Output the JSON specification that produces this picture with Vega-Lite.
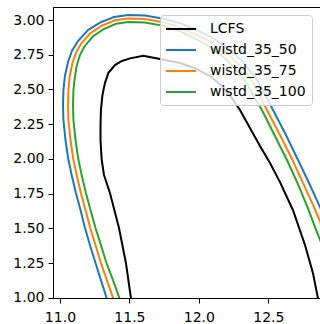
{
  "$schema": "https://vega.github.io/schema/vega-lite/v6.json",
  "autosize": "none",
  "width": 267,
  "height": 291,
  "padding": {"left": 53, "top": 7, "right": 0, "bottom": 26},
  "background": "white",
  "data": {"values": [
    {"s":"LCFS","i":0,"x":11.522,"y":0.947},
    {"s":"LCFS","i":1,"x":11.511,"y":0.998},
    {"s":"LCFS","i":2,"x":11.475,"y":1.250},
    {"s":"LCFS","i":3,"x":11.425,"y":1.502},
    {"s":"LCFS","i":4,"x":11.360,"y":1.754},
    {"s":"LCFS","i":5,"x":11.317,"y":1.884},
    {"s":"LCFS","i":6,"x":11.300,"y":1.999},
    {"s":"LCFS","i":7,"x":11.292,"y":2.136},
    {"s":"LCFS","i":8,"x":11.292,"y":2.244},
    {"s":"LCFS","i":9,"x":11.295,"y":2.352},
    {"s":"LCFS","i":10,"x":11.306,"y":2.460},
    {"s":"LCFS","i":11,"x":11.324,"y":2.546},
    {"s":"LCFS","i":12,"x":11.348,"y":2.618},
    {"s":"LCFS","i":13,"x":11.396,"y":2.676},
    {"s":"LCFS","i":14,"x":11.446,"y":2.705},
    {"s":"LCFS","i":15,"x":11.504,"y":2.724},
    {"s":"LCFS","i":16,"x":11.600,"y":2.743},
    {"s":"LCFS","i":17,"x":11.720,"y":2.719},
    {"s":"LCFS","i":18,"x":11.864,"y":2.690},
    {"s":"LCFS","i":19,"x":11.972,"y":2.654},
    {"s":"LCFS","i":20,"x":12.080,"y":2.597},
    {"s":"LCFS","i":21,"x":12.166,"y":2.525},
    {"s":"LCFS","i":22,"x":12.238,"y":2.438},
    {"s":"LCFS","i":23,"x":12.296,"y":2.352},
    {"s":"LCFS","i":24,"x":12.368,"y":2.222},
    {"s":"LCFS","i":25,"x":12.440,"y":2.093},
    {"s":"LCFS","i":26,"x":12.512,"y":1.970},
    {"s":"LCFS","i":27,"x":12.584,"y":1.833},
    {"s":"LCFS","i":28,"x":12.677,"y":1.632},
    {"s":"LCFS","i":29,"x":12.764,"y":1.380},
    {"s":"LCFS","i":30,"x":12.821,"y":1.178},
    {"s":"LCFS","i":31,"x":12.857,"y":0.998},
    {"s":"LCFS","i":32,"x":12.868,"y":0.947},

    {"s":"wistd_35_50","i":0,"x":11.351,"y":0.947},
    {"s":"wistd_35_50","i":1,"x":11.336,"y":0.998},
    {"s":"wistd_35_50","i":2,"x":11.295,"y":1.127},
    {"s":"wistd_35_50","i":3,"x":11.256,"y":1.250},
    {"s":"wistd_35_50","i":4,"x":11.216,"y":1.380},
    {"s":"wistd_35_50","i":5,"x":11.180,"y":1.502},
    {"s":"wistd_35_50","i":6,"x":11.148,"y":1.632},
    {"s":"wistd_35_50","i":7,"x":11.115,"y":1.754},
    {"s":"wistd_35_50","i":8,"x":11.086,"y":1.876},
    {"s":"wistd_35_50","i":9,"x":11.060,"y":1.999},
    {"s":"wistd_35_50","i":10,"x":11.040,"y":2.136},
    {"s":"wistd_35_50","i":11,"x":11.025,"y":2.280},
    {"s":"wistd_35_50","i":12,"x":11.022,"y":2.388},
    {"s":"wistd_35_50","i":13,"x":11.025,"y":2.496},
    {"s":"wistd_35_50","i":14,"x":11.036,"y":2.597},
    {"s":"wistd_35_50","i":15,"x":11.058,"y":2.698},
    {"s":"wistd_35_50","i":16,"x":11.086,"y":2.777},
    {"s":"wistd_35_50","i":17,"x":11.130,"y":2.849},
    {"s":"wistd_35_50","i":18,"x":11.202,"y":2.928},
    {"s":"wistd_35_50","i":19,"x":11.288,"y":2.982},
    {"s":"wistd_35_50","i":20,"x":11.389,"y":3.022},
    {"s":"wistd_35_50","i":21,"x":11.490,"y":3.036},
    {"s":"wistd_35_50","i":22,"x":11.612,"y":3.032},
    {"s":"wistd_35_50","i":23,"x":11.756,"y":3.007},
    {"s":"wistd_35_50","i":24,"x":11.871,"y":2.975},
    {"s":"wistd_35_50","i":25,"x":11.986,"y":2.928},
    {"s":"wistd_35_50","i":26,"x":12.102,"y":2.870},
    {"s":"wistd_35_50","i":27,"x":12.217,"y":2.791},
    {"s":"wistd_35_50","i":28,"x":12.318,"y":2.698},
    {"s":"wistd_35_50","i":29,"x":12.411,"y":2.582},
    {"s":"wistd_35_50","i":30,"x":12.469,"y":2.481},
    {"s":"wistd_35_50","i":31,"x":12.534,"y":2.352},
    {"s":"wistd_35_50","i":32,"x":12.627,"y":2.172},
    {"s":"wistd_35_50","i":33,"x":12.714,"y":1.992},
    {"s":"wistd_35_50","i":34,"x":12.793,"y":1.826},
    {"s":"wistd_35_50","i":35,"x":12.872,"y":1.653},
    {"s":"wistd_35_50","i":36,"x":12.951,"y":1.473},

    {"s":"wistd_35_75","i":0,"x":11.400,"y":0.947},
    {"s":"wistd_35_75","i":1,"x":11.382,"y":0.998},
    {"s":"wistd_35_75","i":2,"x":11.338,"y":1.127},
    {"s":"wistd_35_75","i":3,"x":11.295,"y":1.250},
    {"s":"wistd_35_75","i":4,"x":11.256,"y":1.380},
    {"s":"wistd_35_75","i":5,"x":11.218,"y":1.502},
    {"s":"wistd_35_75","i":6,"x":11.184,"y":1.632},
    {"s":"wistd_35_75","i":7,"x":11.151,"y":1.754},
    {"s":"wistd_35_75","i":8,"x":11.122,"y":1.876},
    {"s":"wistd_35_75","i":9,"x":11.096,"y":1.999},
    {"s":"wistd_35_75","i":10,"x":11.076,"y":2.136},
    {"s":"wistd_35_75","i":11,"x":11.061,"y":2.280},
    {"s":"wistd_35_75","i":12,"x":11.058,"y":2.388},
    {"s":"wistd_35_75","i":13,"x":11.061,"y":2.496},
    {"s":"wistd_35_75","i":14,"x":11.070,"y":2.592},
    {"s":"wistd_35_75","i":15,"x":11.089,"y":2.687},
    {"s":"wistd_35_75","i":16,"x":11.115,"y":2.762},
    {"s":"wistd_35_75","i":17,"x":11.152,"y":2.829},
    {"s":"wistd_35_75","i":18,"x":11.220,"y":2.906},
    {"s":"wistd_35_75","i":19,"x":11.302,"y":2.959},
    {"s":"wistd_35_75","i":20,"x":11.396,"y":2.998},
    {"s":"wistd_35_75","i":21,"x":11.490,"y":3.011},
    {"s":"wistd_35_75","i":22,"x":11.612,"y":3.007},
    {"s":"wistd_35_75","i":23,"x":11.751,"y":2.983},
    {"s":"wistd_35_75","i":24,"x":11.864,"y":2.947},
    {"s":"wistd_35_75","i":25,"x":11.973,"y":2.898},
    {"s":"wistd_35_75","i":26,"x":12.084,"y":2.843},
    {"s":"wistd_35_75","i":27,"x":12.197,"y":2.766},
    {"s":"wistd_35_75","i":28,"x":12.294,"y":2.675},
    {"s":"wistd_35_75","i":29,"x":12.382,"y":2.561},
    {"s":"wistd_35_75","i":30,"x":12.434,"y":2.463},
    {"s":"wistd_35_75","i":31,"x":12.490,"y":2.352},
    {"s":"wistd_35_75","i":32,"x":12.584,"y":2.172},
    {"s":"wistd_35_75","i":33,"x":12.674,"y":1.992},
    {"s":"wistd_35_75","i":34,"x":12.750,"y":1.826},
    {"s":"wistd_35_75","i":35,"x":12.829,"y":1.653},
    {"s":"wistd_35_75","i":36,"x":12.904,"y":1.473},
    {"s":"wistd_35_75","i":37,"x":12.980,"y":1.293},

    {"s":"wistd_35_100","i":0,"x":11.443,"y":0.947},
    {"s":"wistd_35_100","i":1,"x":11.428,"y":0.998},
    {"s":"wistd_35_100","i":2,"x":11.382,"y":1.127},
    {"s":"wistd_35_100","i":3,"x":11.335,"y":1.250},
    {"s":"wistd_35_100","i":4,"x":11.295,"y":1.380},
    {"s":"wistd_35_100","i":5,"x":11.256,"y":1.502},
    {"s":"wistd_35_100","i":6,"x":11.220,"y":1.632},
    {"s":"wistd_35_100","i":7,"x":11.187,"y":1.754},
    {"s":"wistd_35_100","i":8,"x":11.158,"y":1.876},
    {"s":"wistd_35_100","i":9,"x":11.132,"y":1.999},
    {"s":"wistd_35_100","i":10,"x":11.112,"y":2.136},
    {"s":"wistd_35_100","i":11,"x":11.097,"y":2.280},
    {"s":"wistd_35_100","i":12,"x":11.094,"y":2.388},
    {"s":"wistd_35_100","i":13,"x":11.097,"y":2.496},
    {"s":"wistd_35_100","i":14,"x":11.107,"y":2.586},
    {"s":"wistd_35_100","i":15,"x":11.122,"y":2.677},
    {"s":"wistd_35_100","i":16,"x":11.144,"y":2.748},
    {"s":"wistd_35_100","i":17,"x":11.175,"y":2.808},
    {"s":"wistd_35_100","i":18,"x":11.238,"y":2.883},
    {"s":"wistd_35_100","i":19,"x":11.315,"y":2.935},
    {"s":"wistd_35_100","i":20,"x":11.404,"y":2.973},
    {"s":"wistd_35_100","i":21,"x":11.490,"y":2.986},
    {"s":"wistd_35_100","i":22,"x":11.612,"y":2.982},
    {"s":"wistd_35_100","i":23,"x":11.746,"y":2.958},
    {"s":"wistd_35_100","i":24,"x":11.857,"y":2.923},
    {"s":"wistd_35_100","i":25,"x":11.962,"y":2.872},
    {"s":"wistd_35_100","i":26,"x":12.067,"y":2.815},
    {"s":"wistd_35_100","i":27,"x":12.174,"y":2.738},
    {"s":"wistd_35_100","i":28,"x":12.265,"y":2.649},
    {"s":"wistd_35_100","i":29,"x":12.349,"y":2.539},
    {"s":"wistd_35_100","i":30,"x":12.399,"y":2.444},
    {"s":"wistd_35_100","i":31,"x":12.454,"y":2.352},
    {"s":"wistd_35_100","i":32,"x":12.544,"y":2.172},
    {"s":"wistd_35_100","i":33,"x":12.634,"y":1.992},
    {"s":"wistd_35_100","i":34,"x":12.710,"y":1.826},
    {"s":"wistd_35_100","i":35,"x":12.782,"y":1.653},
    {"s":"wistd_35_100","i":36,"x":12.850,"y":1.473},
    {"s":"wistd_35_100","i":37,"x":12.922,"y":1.293}
  ]},
  "mark": {"type": "line", "clip": true, "strokeWidth": 2, "interpolate": "linear"},
  "encoding": {
    "x": {"field": "x", "type": "quantitative",
      "scale": {"domain": [10.95, 12.872], "nice": false, "zero": false},
      "axis": {"values": [11.0, 11.5, 12.0, 12.5], "format": ".1f", "title": null, "labelPadding": 7}},
    "y": {"field": "y", "type": "quantitative",
      "scale": {"domain": [0.998, 3.094], "nice": false, "zero": false},
      "axis": {"values": [1.0, 1.25, 1.5, 1.75, 2.0, 2.25, 2.5, 2.75, 3.0], "format": ".2f", "title": null, "labelPadding": 4}},
    "color": {"field": "s", "type": "nominal",
      "scale": {"domain": ["LCFS", "wistd_35_50", "wistd_35_75", "wistd_35_100"],
                "range": ["#000000", "#1f77b4", "#ff7f0e", "#2ca02c"]},
      "legend": {"title": null, "orient": "none", "legendX": 107, "legendY": 8,
        "symbolType": "M-1.14,0H3.14", "symbolSize": 196, "symbolStrokeWidth": 2,
        "labelOffset": 28, "padding": 6, "rowPadding": 6,
        "fillColor": "rgba(255,255,255,0.8)", "strokeColor": "#cccccc", "cornerRadius": 3,
        "labelFontSize": 14, "labelFont": "DejaVu Sans", "labelColor": "#000000"}},
    "order": {"field": "i", "type": "quantitative"}
  },
  "config": {
    "view": {"stroke": "#000000", "strokeWidth": 1},
    "axis": {"grid": false, "domainColor": "#000000", "domainWidth": 1, "tickColor": "#000000", "tickSize": 5, "tickWidth": 1,
      "labelFont": "DejaVu Sans", "labelFontSize": 14, "labelColor": "#000000"}
  }
}
